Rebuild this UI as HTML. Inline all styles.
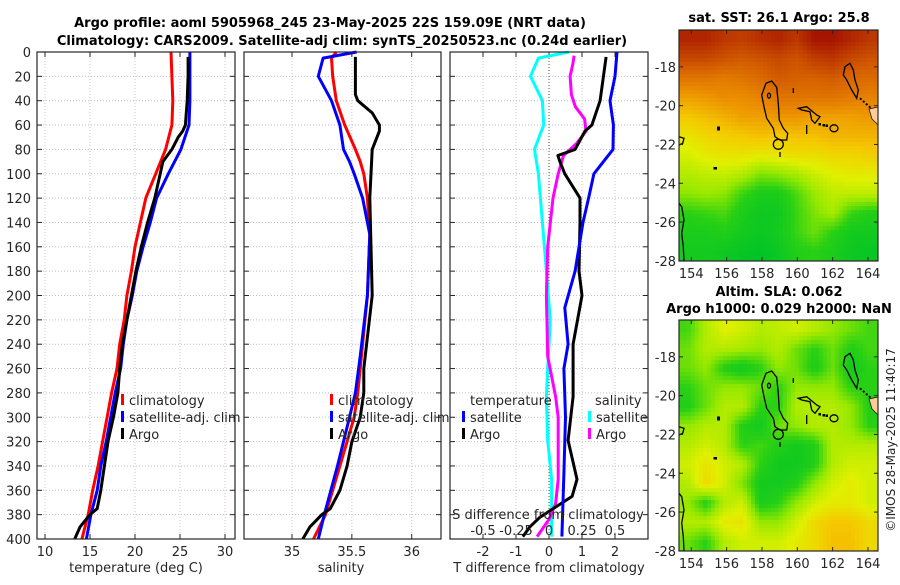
<!DOCTYPE html>
<html><head><meta charset="utf-8"><style>
html,body{margin:0;padding:0;background:#fff}
svg text{font-family:"DejaVu Sans","Liberation Sans",sans-serif;fill:#262626}
</style></head><body>
<svg id="fig" xmlns="http://www.w3.org/2000/svg" width="900" height="580" viewBox="0 0 900 580">
<rect width="900" height="580" fill="#fff"/>
<text x="330" y="27" text-anchor="middle" font-size="13" font-weight="bold" style="fill:#000">Argo profile: aoml 5905968_245 23-May-2025 22S 159.09E (NRT data)</text>
<text x="342" y="45" text-anchor="middle" font-size="13" font-weight="bold" style="fill:#000">Climatology: CARS2009. Satellite-adj clim: synTS_20250523.nc (0.24d earlier)</text>
<g id="p1"></g>
<g id="p2"></g>
<g id="p3"></g>
<g id="m1"></g>
<g id="m2"></g>
<text x="779" y="22" text-anchor="middle" font-size="13" font-weight="bold" style="fill:#000">sat. SST: 26.1 Argo: 25.8</text>
<text x="779" y="296" text-anchor="middle" font-size="13" font-weight="bold" style="fill:#000">Altim. SLA: 0.062</text>
<text x="779" y="313" text-anchor="middle" font-size="13" font-weight="bold" style="fill:#000">Argo h1000: 0.029 h2000: NaN</text>
<text transform="translate(895,440) rotate(-90)" text-anchor="middle" font-size="12">©IMOS 28-May-2025 11:40:17</text>
</svg>
<script>
// ---------- data ----------
const depthClim=[0,20,40,60,80,100,120,140,160,180,200,220,240,260,280,300,320,340,360,380,400];
const tempClim=[24.0,24.1,24.2,24.1,23.4,22.3,21.2,20.6,20.0,19.6,19.1,18.8,18.3,18.0,17.4,16.9,16.4,15.9,15.3,14.8,14.1];
const tempSat=[26.1,26.1,26.1,26.0,25.1,23.7,22.4,21.7,20.9,20.2,19.7,19.1,18.7,18.4,17.8,17.3,16.8,16.2,15.8,15.1,14.6];
const depthArgoT=[4,20,40,60,65,70,80,85,90,100,120,140,160,180,200,220,240,260,280,300,320,340,360,375,380,390,400];
const tempArgo=[25.9,25.9,25.8,25.6,25.3,24.8,24.1,23.6,23.1,22.8,22.2,21.4,20.7,20.1,19.6,19.1,18.6,18.3,18.1,17.6,17.0,16.6,16.2,15.8,15.0,13.9,13.3];
const depthSal=[0,5,20,40,60,80,90,100,120,150,200,250,280,300,340,380,400];
const salClim=[35.37,35.33,35.34,35.37,35.44,35.53,35.57,35.60,35.63,35.65,35.63,35.58,35.55,35.52,35.40,35.28,35.18];
const salSat=[35.54,35.26,35.22,35.33,35.40,35.43,35.48,35.52,35.59,35.65,35.63,35.57,35.53,35.48,35.38,35.27,35.22];
const depthArgoS=[4,35,40,50,60,65,70,80,120,200,260,280,300,320,340,360,375,380,390,400];
const salArgo=[35.53,35.53,35.55,35.67,35.73,35.73,35.71,35.67,35.65,35.67,35.60,35.60,35.57,35.50,35.46,35.40,35.32,35.25,35.15,35.09];
const depthTdSat=[0,20,40,60,80,90,100,120,140,180,210,240,260,300,346,398];
const tdSat=[2.06,2.0,1.85,1.95,1.94,1.65,1.36,1.2,1.03,0.79,0.48,0.58,0.45,0.5,0.45,0.39];
const depthTdArgo=[4,40,60,65,80,85,90,100,120,140,180,200,240,283,319,351,365,382,390,398];
const tdArgo=[1.73,1.55,1.3,1.09,0.79,0.27,0.33,0.48,0.94,0.94,0.91,1.0,0.73,0.73,0.58,0.85,0.7,-0.27,-0.58,-0.79];
const depthSdSat=[0,5,20,40,60,80,100,140,180,220,260,283,319,351,398];
const sdSat=[0.15,-0.08,-0.14,-0.05,-0.04,-0.11,-0.08,-0.05,-0.02,0.01,-0.01,-0.02,-0.01,0.02,0.02];
const depthSdArgo=[3,10,20,35,45,55,65,75,85,100,120,160,200,250,283,300,351,371,384,398];
const sdArgo=[0.19,0.18,0.16,0.17,0.2,0.27,0.28,0.21,0.11,0.07,0.03,-0.01,-0.02,-0.01,0.05,0.07,0.07,0.05,0,-0.09];
const depthTicks=[0,20,40,60,80,100,120,140,160,180,200,220,240,260,280,300,320,340,360,380,400];
const tempTicks=[10,15,20,25,30];
const salTicks=[35,35.5,36];
const salTickLabels=["35","35.5","36"];
const tdTicks=[-2,-1,0,1,2];
const sdTicks=[-0.5,-0.25,0,0.25,0.5];
const sdTickLabels=["-0.5","-0.25","0","0.25","0.5"];
const latTicks=[-18,-20,-22,-24,-26,-28];
const lonTicks=[154,156,158,160,162,164];
const sstGrid=[
[.95,.95,.9,.88,.92,.95,.9,1,1,.95,.9],
[.85,.85,.82,.8,.82,.85,.82,.88,.9,.85,.82],
[.72,.72,.7,.72,.75,.8,.78,.78,.8,.76,.75],
[.6,.62,.65,.65,.68,.72,.72,.72,.72,.7,.68],
[.5,.53,.56,.6,.6,.63,.63,.6,.6,.6,.62],
[.42,.46,.48,.5,.52,.5,.52,.52,.55,.55,.55],
[.36,.4,.42,.42,.4,.42,.44,.44,.46,.46,.48],
[.3,.32,.33,.3,.22,.24,.28,.34,.38,.4,.4],
[.24,.26,.24,.14,.08,.08,.16,.26,.32,.32,.32],
[.12,.14,.16,.08,.04,.05,.14,.22,.28,.14,.1],
[.08,.08,.1,.06,.04,.06,.14,.2,.12,.06,.06],
[.06,.06,.04,.02,0,.04,.1,.12,.08,.04,.02]];
const slaGrid=[
[.15,.3,.38,.35,.3,.32,.35,.3,.25,.2,.15],
[.2,.3,.3,.28,.25,.3,.2,.12,.2,.1,.15],
[.2,.25,.1,.05,.12,.25,.2,.08,.2,.05,.12],
[.12,.2,.25,.25,.2,.12,.25,.25,.25,.12,.12],
[.1,.2,.3,.3,.12,.12,.3,.3,.3,.25,.1],
[.25,.3,.3,.1,.06,.2,.25,.3,.3,.25,.12],
[.3,.35,.3,.12,.15,.1,.06,.1,.3,.3,.3],
[.35,.42,.35,.3,.12,.05,.05,.1,.3,.35,.35],
[.3,.45,.35,.22,.06,.06,.1,.25,.35,.4,.35],
[.25,.1,.3,.35,.08,.12,.25,.35,.4,.4,.35],
[.3,.3,.4,.42,.25,.25,.35,.45,.5,.5,.45],
[.2,.12,.3,.35,.35,.35,.4,.45,.52,.52,.45]];

// ---------- helpers ----------
const NS="http://www.w3.org/2000/svg";
function mk(parent,tag,attrs){const e=document.createElementNS(NS,tag);for(const k in attrs)e.setAttribute(k,attrs[k]);parent.appendChild(e);return e;}
const TOP=52,BOT=539;
function yD(d){return TOP+d*(BOT-TOP)/400;}
function xT(t){return 45+(t-10)*9;}
function xS(s){return 292+(s-35)*119.7;}
function xTd(d){return 549+d*33;}
function xSd(s){return 549+s*132;}

function panel(g,x0,x1,vticks,vfn){
  mk(g,'rect',{x:x0,y:TOP,width:x1-x0,height:BOT-TOP,fill:'#fff'});
  depthTicks.forEach(d=>{
    const l=mk(g,'line',{x1:x0,x2:x1,y1:yD(d),y2:yD(d),stroke:'#b8bfe0','stroke-width':1,'stroke-dasharray':'1,2'});
    
    
    mk(g,'line',{x1:x0,x2:x0+5,y1:yD(d),y2:yD(d),stroke:'#262626'});
    mk(g,'line',{x1:x1-5,x2:x1,y1:yD(d),y2:yD(d),stroke:'#262626'});
  });
  vticks.forEach(v=>{
    const l=mk(g,'line',{x1:vfn(v),x2:vfn(v),y1:TOP,y2:BOT,stroke:'#d8c0c0','stroke-width':1,'stroke-dasharray':'1,2'});
    
    
    mk(g,'line',{x1:vfn(v),x2:vfn(v),y1:BOT-5,y2:BOT,stroke:'#262626'});
    mk(g,'line',{x1:vfn(v),x2:vfn(v),y1:TOP,y2:TOP+5,stroke:'#262626'});
  });
}
function frame(g,x0,x1){const r=mk(g,'rect',{x:x0,y:TOP,width:x1-x0,height:BOT-TOP,fill:'none',stroke:'#262626','stroke-width':1.2});}
function line(g,xs,ds,fx,color,name,w){
  const pts=xs.map((v,i)=>fx(v).toFixed(1)+','+yD(ds[i]).toFixed(1)).join(' ');
  const p=mk(g,'polyline',{points:pts,fill:'none',stroke:color,'stroke-width':w||3,'stroke-linejoin':'round'});
  
  
}
function txt(g,x,y,s,anchor,size,name){const t=mk(g,'text',{x:x,y:y,'text-anchor':anchor||'middle','font-size':size||13});t.textContent=s;return t;}
function legItem(g,x,y,color,label,name){
  mk(g,'rect',{x:x,y:y-11,width:3,height:11,fill:color});
  txt(g,x+8,y,label,'start',13,name);
}

// ---------- panel 1 ----------
const p1=document.getElementById('p1');
panel(p1,37,235,tempTicks,xT);
line(p1,tempClim,depthClim,xT,'#ff0000','temp-clim-line');
line(p1,tempSat,depthClim,xT,'#0000ff','temp-satellite-line');
line(p1,tempArgo,depthArgoT,xT,'#000000','temp-argo-line');
frame(p1,37,235);
depthTicks.forEach(d=>txt(p1,31,yD(d)+5,String(d),'end',13,'y-tick-label'));
tempTicks.forEach(t=>txt(p1,xT(t),556,String(t),'middle',13,'x-tick-label'));
txt(p1,136,572,'temperature (deg C)','middle',13,'x-axis-title');
legItem(p1,121,405,'#ff0000','climatology','legend-entry-climatology');
legItem(p1,121,422,'#0000ff','satellite-adj. clim','legend-entry-satellite');
legItem(p1,121,439,'#000000','Argo','legend-entry-argo');

// ---------- panel 2 ----------
const p2=document.getElementById('p2');
panel(p2,244,441,salTicks,xS);
line(p2,salClim,depthSal,xS,'#ff0000','sal-clim-line');
line(p2,salSat,depthSal,xS,'#0000ff','sal-satellite-line');
line(p2,salArgo,depthArgoS,xS,'#000000','sal-argo-line');
frame(p2,244,441);
salTicks.forEach((s,i)=>txt(p2,xS(s),556,salTickLabels[i],'middle',13,'x-tick-label'));
txt(p2,341,572,'salinity','middle',13,'x-axis-title');
legItem(p2,330,405,'#ff0000','climatology','legend-entry-climatology');
legItem(p2,330,422,'#0000ff','satellite-adj. clim','legend-entry-satellite');
legItem(p2,330,439,'#000000','Argo','legend-entry-argo');

// ---------- panel 3 ----------
const p3=document.getElementById('p3');
panel(p3,450,648,tdTicks,xTd);
const z=mk(p3,'line',{x1:549,x2:549,y1:TOP,y2:BOT,stroke:'#555533','stroke-width':1,'stroke-dasharray':'1,2'});


line(p3,sdSat,depthSdSat,xSd,'#00ffff','sdiff-satellite-line');
line(p3,sdArgo,depthSdArgo,xSd,'#ff00ff','sdiff-argo-line');
line(p3,tdArgo,depthTdArgo,xTd,'#000000','tdiff-argo-line');
line(p3,tdSat,depthTdSat,xTd,'#0000ff','tdiff-satellite-line');
frame(p3,450,648);
tdTicks.forEach(t=>txt(p3,xTd(t),556,String(t),'middle',13,'x-tick-label'));
txt(p3,549,572,'T difference from climatology','middle',13,'x-axis-title');
txt(p3,548,519,'S difference from climatology','middle',13,'s-axis-title');
sdTicks.forEach((s,i)=>txt(p3,xSd(s),535,sdTickLabels[i],'middle',13,'s-tick-label'));
txt(p3,470,405,'temperature','start',13,'legend-title-temperature');
legItem(p3,462,422,'#0000ff','satellite','legend-entry-t-satellite');
legItem(p3,462,439,'#000000','Argo','legend-entry-t-argo');
txt(p3,595,405,'salinity','start',13,'legend-title-salinity');
legItem(p3,588,422,'#00ffff','satellite','legend-entry-s-satellite');
legItem(p3,588,439,'#ff00ff','Argo','legend-entry-s-argo');

// ---------- maps ----------
const MX0=679,MX1=878;
function lonX(l){return 691.3+(l-154)*17.67;}
function cmap(v){
  const stops=[[0,[0,196,40]],[.12,[40,208,20]],[.25,[150,232,0]],[.38,[225,240,0]],[.5,[245,200,0]],[.65,[235,140,0]],[.8,[210,90,0]],[1,[165,20,0]]];
  v=Math.max(0,Math.min(1,v));
  for(let i=1;i<stops.length;i++){if(v<=stops[i][0]){const a=stops[i-1],b=stops[i],f=(v-a[0])/(b[0]-a[0]);
    return 'rgb('+a[1].map((c,j)=>Math.round(c+f*(b[1][j]-c))).join(',')+')';}}
  return 'rgb(165,20,0)';
}
function sample(grid,fr,fc){
  const R=grid.length,C=grid[0].length;
  let r=fr*R-0.5,c=fc*C-0.5;
  r=Math.max(0,Math.min(R-1,r));c=Math.max(0,Math.min(C-1,c));
  const r0=Math.floor(r),c0=Math.floor(c),r1=Math.min(R-1,r0+1),c1=Math.min(C-1,c0+1);
  const a=r-r0,b=c-c0;
  return grid[r0][c0]*(1-a)*(1-b)+grid[r0][c1]*(1-a)*b+grid[r1][c0]*a*(1-b)+grid[r1][c1]*a*b;
}
const coast=`<g fill="none" stroke="#000" stroke-width="1.3">
<polygon points="761.7,95 766,83.3 771.7,81 776.7,87.3 778.3,103.3 779.3,120 783.3,128.3 787.7,133.3 786.7,140 780,140 775,136.7 773.3,128.3 766.7,118.3 764,106.7"/>
<circle cx="778.3" cy="144.3" r="5"/>
<ellipse cx="769" cy="95.7" rx="1.5" ry="2.5"/>
<polygon points="798.3,108.3 806.7,106.7 816.7,115 820,116.7 815,123.3 811.7,120 810,111.7 801.7,110"/>
<ellipse cx="834" cy="128.3" rx="4" ry="3.5"/>
<line x1="806.7" y1="125" x2="806.7" y2="134"/>
<line x1="793.3" y1="88" x2="793.3" y2="93"/>
<line x1="780" y1="152" x2="780" y2="157"/>
<polygon points="845,66.7 850,63.3 853.3,70 855,80 858.3,90 856.7,98.3 851.7,90 846.7,80 843.3,75"/>
<polyline points="679,136.7 684,138.3 682.7,143.3 679,145"/>
<polyline points="679,203.3 681.7,206.7 684,220 681.7,233.3 683.3,246.7 684,261"/>
<line x1="860" y1="98.3" x2="872" y2="109" stroke-dasharray="2,2" stroke-width="2"/>
</g>
<g fill="#000"><rect x="717" y="126.5" width="3" height="4"/><rect x="713.5" y="167" width="3.5" height="2.5"/><rect x="818.5" y="123" width="2.5" height="2.5"/><rect x="822.5" y="124" width="2.5" height="2.5"/><rect x="825.5" y="124.5" width="2.5" height="2.5"/></g>
<polygon points="869,109 878,107 878,125 872,119" fill="#ffcc99" stroke="#000" stroke-width="0.7"/>`;
function drawMap(id,grid,dy,name){
  const g=document.getElementById(id);
  const top=30+dy,bot=261+dy;
  const W=MX1-MX0,H=bot-top,cs=4;
  const img=mk(g,'g',{});
  
  
  for(let y=0;y<H;y+=cs){for(let x=0;x<W;x+=cs){
    const v=sample(grid,(y+cs/2)/H,(x+cs/2)/W);
    mk(img,'rect',{x:MX0+x,y:top+y,width:Math.min(cs,W-x)+0.3,height:Math.min(cs,H-y)+0.3,fill:cmap(v)});
  }}
  const cg=mk(g,'g',{transform:'translate(0,'+dy+')'});
  cg.innerHTML=coast;
  
  
  const fr=mk(g,'rect',{x:MX0,y:top,width:W,height:H,fill:'none',stroke:'#262626','stroke-width':1.2});
  
  
  latTicks.forEach(l=>{const y=top+(-16.1-l)*19.4;
    mk(g,'line',{x1:MX0,x2:MX0+4,y1:y,y2:y,stroke:'#262626'});
    mk(g,'line',{x1:MX1-4,x2:MX1,y1:y,y2:y,stroke:'#262626'});
    txt(g,676,y+5,String(l),'end',13,'lat-tick-label');});
  lonTicks.forEach(l=>{const x=lonX(l);
    mk(g,'line',{x1:x,x2:x,y1:bot-4,y2:bot,stroke:'#262626'});
    mk(g,'line',{x1:x,x2:x,y1:top,y2:top+4,stroke:'#262626'});
    txt(g,x,bot+17,String(l),'middle',13,'lon-tick-label');});
}
drawMap('m1',sstGrid,0,'sst');
drawMap('m2',slaGrid,290,'sla');
</script>
</body></html>
